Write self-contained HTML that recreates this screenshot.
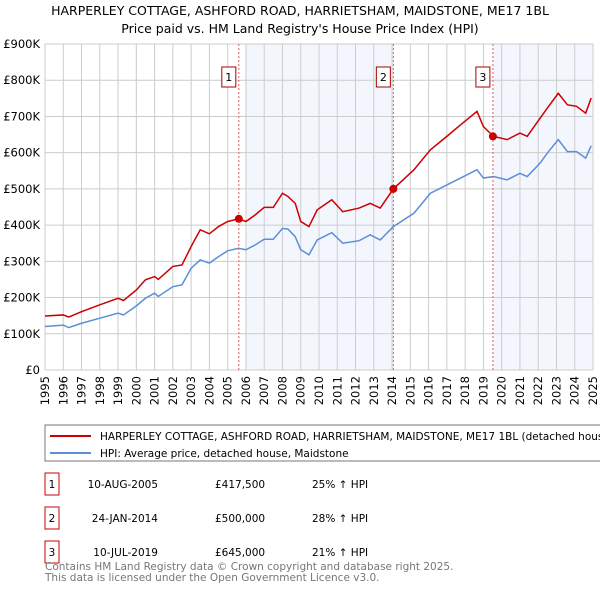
<!DOCTYPE html>
<html><head><meta charset="utf-8"><style>
body{margin:0;background:#fff;font-family:"DejaVu Sans","Liberation Sans",sans-serif;}
svg text{font-family:"DejaVu Sans","Liberation Sans",sans-serif;}
</style></head><body>
<svg id="chart" width="600" height="590" xmlns="http://www.w3.org/2000/svg">
<text x="300" y="15" text-anchor="middle" font-size="12.5">HARPERLEY COTTAGE, ASHFORD ROAD, HARRIETSHAM, MAIDSTONE, ME17 1BL</text>
<text x="300" y="33" text-anchor="middle" font-size="12.5">Price paid vs. HM Land Registry's House Price Index (HPI)</text>
<g id="shade"></g><g id="grid"></g><g id="axes"></g><g id="series"></g><g id="markers"></g>
<g>
<rect x="45" y="425" width="560" height="36" fill="#fff" stroke="#777"/>
<line x1="50" y1="436" x2="91" y2="436" stroke="#cc0000" stroke-width="2"/>
<text x="100" y="440" font-size="10.5">HARPERLEY COTTAGE, ASHFORD ROAD, HARRIETSHAM, MAIDSTONE, ME17 1BL (detached house)</text>
<line x1="50" y1="453" x2="91" y2="453" stroke="#5b8fd6" stroke-width="2"/>
<text x="100" y="457" font-size="10.5">HPI: Average price, detached house, Maidstone</text>
</g>
<g id="table" font-size="10.5"></g>
<text x="45" y="570" font-size="10.5" fill="#777">Contains HM Land Registry data © Crown copyright and database right 2025.</text>
<text x="45" y="581" font-size="10.5" fill="#777">This data is licensed under the Open Government Licence v3.0.</text>
</svg>
<script>
const yearTicks=[1995,1996,1997,1998,1999,2000,2001,2002,2003,2004,2005,2006,2007,2008,2009,2010,2011,2012,2013,2014,2015,2016,2017,2018,2019,2020,2021,2022,2023,2024,2025];
const yTicks=[0,100,200,300,400,500,600,700,800,900];
const yLabels=["£0","£100K","£200K","£300K","£400K","£500K","£600K","£700K","£800K","£900K"];
const hpiYears=[1995,1996,1996.3,1997,1998,1999,1999.3,2000,2000.5,2001,2001.2,2002,2002.5,2003,2003.5,2004,2004.5,2005,2005.6,2006,2006.5,2007,2007.5,2008,2008.3,2008.7,2009,2009.45,2009.9,2010.7,2011.3,2012.2,2012.8,2013.35,2014.07,2015.2,2016.1,2017,2017.75,2018.65,2019,2019.55,2020.3,2021,2021.4,2022.1,2022.5,2023.1,2023.6,2024.1,2024.6,2024.9];
const hpiValues=[120,124,117,129,143,157,152,177,198,212,203,230,235,281,304,295,313,329,336,332,345,361,361,391,389,368,332,318,359,379,350,357,373,359,396,433,488,511,530,553,530,534,525,543,534,571,599,636,603,603,585,619];
const priceYears=[1995,1996,1996.3,1997,1998,1999,1999.3,2000,2000.5,2001,2001.2,2002,2002.5,2003,2003.5,2004,2004.5,2005,2005.6,2006,2006.5,2007,2007.5,2008,2008.3,2008.7,2009,2009.45,2009.9,2010.7,2011.3,2012.2,2012.8,2013.35,2014.07,2015.2,2016.1,2017,2017.75,2018.65,2019,2019.55,2020.3,2021,2021.4,2022.1,2022.5,2023.1,2023.6,2024.1,2024.6,2024.9];
const priceValues=[149,152,146,161,180,198,192,221,249,258,250,286,290,341,387,376,396,410,417,410,428,449,449,488,479,460,410,396,442,470,437,447,460,447,500,553,608,645,677,714,672,645,636,654,645,695,723,764,732,728,709,751];
const saleLabels=["1","2","3"];
const saleYears=[2005.61,2014.07,2019.52];
const saleValues=[417.5,500,645];
const saleDates=["10-AUG-2005","24-JAN-2014","10-JUL-2019"];
const salePrices=["£417,500","£500,000","£645,000"];
const saleHpi=["25% ↑ HPI","28% ↑ HPI","21% ↑ HPI"];
const shadeStarts=[2006,2019.52];
const shadeEnds=[2014.07,2025];
const X=y=>45+(y-1995)*(548/30);
const Y=v=>370-v*(326/900);
const NS="http://www.w3.org/2000/svg";
function mk(tag,attrs,parent){const e=document.createElementNS(NS,tag);for(const k in attrs)e.setAttribute(k,attrs[k]);parent.appendChild(e);return e;}
const shade=document.getElementById('shade'),grid=document.getElementById('grid'),axes=document.getElementById('axes'),series=document.getElementById('series'),markers=document.getElementById('markers'),table=document.getElementById('table');
shadeStarts.forEach((s,i)=>{const r=mk('rect',{x:X(s),y:Y(900),width:X(shadeEnds[i])-X(s),height:Y(0)-Y(900),fill:'#eef3fc',opacity:'0.7'},shade);

});
yearTicks.forEach(y=>{const l=mk('line',{x1:X(y),x2:X(y),y1:Y(900),y2:Y(0),stroke:'#ccc'},grid);


const t=mk('text',{x:0,y:0,'font-size':'11.5','text-anchor':'end',transform:`translate(${X(y)+4},${Y(0)+6}) rotate(-90)`},axes);t.textContent=y;

});
yTicks.forEach((v,i)=>{const l=mk('line',{x1:X(1995),x2:X(2025),y1:Y(v),y2:Y(v),stroke:'#ccc'},grid);


const t=mk('text',{x:40,y:Y(v)+4,'font-size':'11.5','text-anchor':'end'},axes);t.textContent=yLabels[i];

});
saleYears.forEach((s,i)=>{const l=mk('line',{x1:X(s),x2:X(s),y1:Y(900),y2:Y(0),stroke:'#e06060','stroke-dasharray':'2,2'},markers);

});
const hp=mk('polyline',{points:hpiYears.map((y,i)=>X(y)+','+Y(hpiValues[i])).join(' '),fill:'none',stroke:'#5b8fd6','stroke-width':1.5},series);


const pp=mk('polyline',{points:priceYears.map((y,i)=>X(y)+','+Y(priceValues[i])).join(' '),fill:'none',stroke:'#cc0000','stroke-width':1.5},series);


saleYears.forEach((s,i)=>{const c=mk('circle',{cx:X(s),cy:Y(saleValues[i]),r:4,fill:'#cc0000'},markers);


const b=mk('rect',{x:X(s)-17,y:67,width:14,height:20,fill:'#fff',stroke:'#aa0000'},markers);


const t=mk('text',{x:X(s)-10,y:81,'font-size':'11','text-anchor':'middle'},markers);t.textContent=saleLabels[i];

});
const rowY=[484,518,552];
saleLabels.forEach((lab,i)=>{const g=mk('g',{},table);


mk('rect',{x:45,y:rowY[i]-11,width:14,height:22,fill:'#fff',stroke:'#cc0000'},g);
mk('text',{x:52,y:rowY[i]+4,'text-anchor':'middle'},g).textContent=lab;
mk('text',{x:158,y:rowY[i]+4,'text-anchor':'end'},g).textContent=saleDates[i];
mk('text',{x:215,y:rowY[i]+4},g).textContent=salePrices[i];
mk('text',{x:312,y:rowY[i]+4},g).textContent=saleHpi[i];});
</script>
</body></html>
